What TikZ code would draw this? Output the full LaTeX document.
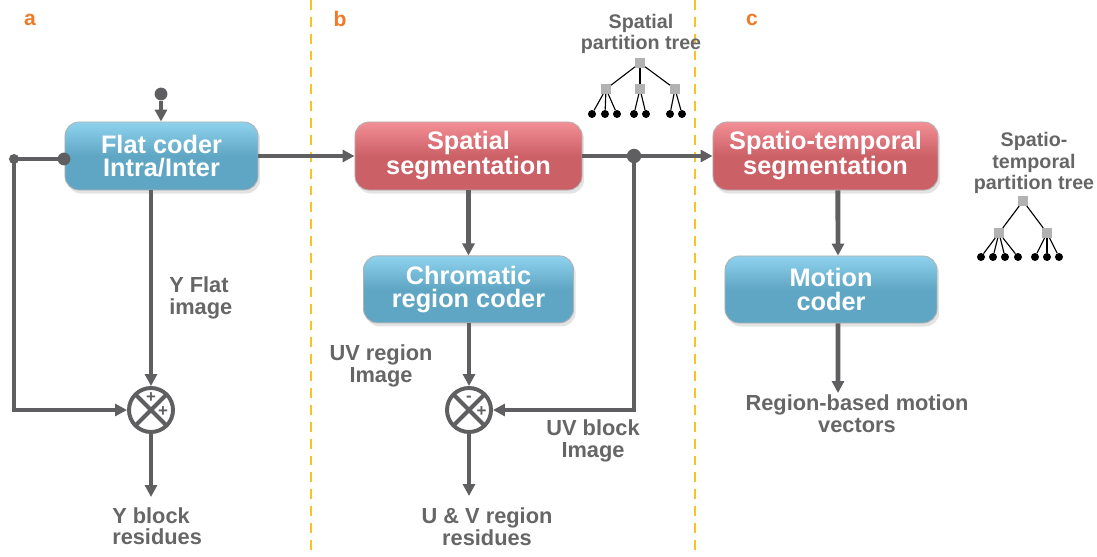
\documentclass[tikz,border=0pt]{standalone}
\usepackage{fontspec}
\setmainfont{Liberation Sans}
\usepackage{xcolor}
\usepackage{tikz}
\usetikzlibrary{positioning,arrows.meta,shadows}

\definecolor{linegray}{HTML}{5F5F61}
\definecolor{textgray}{HTML}{666666}
\definecolor{coderblue}{HTML}{5FA6C4}
\definecolor{coderbluetop}{HTML}{8ED2EE}
\definecolor{segred}{HTML}{CC6067}
\definecolor{segredtop}{HTML}{F28F95}
\definecolor{dashyellow}{HTML}{F6C324}
\definecolor{panelorange}{HTML}{F07A27}
\definecolor{treegray}{HTML}{B2B2B2}

\begin{document}
\begin{tikzpicture}[
x=0.025cm, y=-0.025cm,
box/.style={
	rectangle,
	rounded corners=0.35cm,
	draw=gray!60,
	line width=0.6pt,
	align=center,
	text=white,
	font=\bfseries\fontsize{18}{16.5}\selectfont,
	minimum height=1.7cm,
	drop shadow={opacity=0.22, shadow xshift=1.5pt, shadow yshift=-2.5pt}
},
coder/.style={box, top color=coderbluetop, bottom color=coderblue, middle color=coderblue},
seg/.style={box, top color=segredtop, bottom color=segred, middle color=segred},
lbl/.style={
	text=textgray,
	align=center,
	inner sep=0pt,
	font=\bfseries\fontsize{15.5}{15.5}\selectfont
},
treelbl/.style={lbl, font=\bfseries\fontsize{14}{15.5}\selectfont},
panel/.style={text=panelorange, font=\bfseries\fontsize{15}{15}\selectfont},
sign/.style={text=linegray, inner sep=0pt, font=\bfseries\fontsize{12}{12}\selectfont},
sum/.style={
	circle,
	draw=linegray,
	line width=2.8pt,
	minimum size=1.1cm,
	inner sep=0pt,
	path picture={
		\draw[linegray, line width=2.8pt]
			(path picture bounding box.north west) -- (path picture bounding box.south east)
			(path picture bounding box.north east) -- (path picture bounding box.south west);
	}
},
dot/.style={circle, fill=linegray, inner sep=0pt, minimum size=0.32cm},
tsq/.style={rectangle, fill=treegray, inner sep=0pt, minimum size=0.24cm},
leaf/.style={circle, fill=black, inner sep=0pt, minimum size=0.2cm},
tedge/.style={draw=black, line width=0.8pt},
wire/.style={draw=linegray, line width=3.5pt},
arrow/.style={wire, -{Triangle[length=8.5pt,width=8.5pt]}},
sep/.style={draw=dashyellow, line width=1.9pt, dash pattern=on 7pt off 5pt}
]
\useasboundingbox (0,0) rectangle (1097,557);

% panel separators and letters
\draw[sep] (311,0) -- (311,557);
\draw[sep] (695,0) -- (695,557);
\node[panel] (pa) at (30,20) {a};
\node[panel] (pb) at (340,19) {b};
\node[panel] (pc) at (752,20) {c};

% coder blocks
\node[coder, minimum width=4.825cm] (flat) at (161.5,156) {Flat coder\\Intra/Inter};
\node[seg, minimum width=5.675cm] (sseg) at (468.5,156) {Spatial\\segmentation};
\node[coder, minimum width=5.25cm, minimum height=1.675cm, below=1.625cm of sseg] (chroma) {Chromatic\\region coder};
\node[seg, minimum width=5.625cm] (stseg) at (825.5,156) {Spatio-temporal\\segmentation};
\node[coder, minimum width=5.3cm, minimum height=1.675cm] (motion) at (831,289.5) {Motion\\coder};

% adders
\node[sum] (sumY) at (151,410) {};
\node[sign] (sumYa) at ([yshift=8.5pt]sumY.center) {+};
\node[sign] (sumYb) at ([xshift=8.5pt,yshift=-1pt]sumY.center) {+};
\node[sum] (sumUV) at (469,410) {};
\node[sign] (sumUVa) at ([yshift=8pt]sumUV.center) {-};
\node[sign] (sumUVb) at ([xshift=9pt,yshift=-1pt]sumUV.center) {+};

% junctions
\node[dot] (indot) at (161,94) {};
\node[dot] (fbdot) at (64,159) {};
\node[dot, minimum size=0.25cm] (corner) at (14,159) {};
\node[dot, minimum size=0.36cm] (branch) at (634,156) {};
\coordinate (yout) at (151,497);
\coordinate (uvout) at (469,496);
\coordinate (mvout) at (838,393);

% labels
\node[lbl, align=left, anchor=west] (yflat) at (169,298) {Y Flat\\image};
\node[lbl, align=left, anchor=north west] (yres) at (112,507) {Y block\\residues};
\node[lbl] (uvimg) at (381,366) {UV region\\Image};
\node[lbl] (uvblk) at (593,441) {UV block\\Image};
\node[lbl] (uvres) at (487,527) {U \& V region\\residues};
\node[lbl] (mvec) at (857,414) {Region-based motion\\vectors};
\node[treelbl] (sptitle) at (641,34) {Spatial\\partition tree};
\node[treelbl] (sttitle) at (1034,163) {Spatio-\\temporal\\partition tree};

% spatial partition tree
\node[tsq] (sr) at (640,63) {};
\node[tsq] (s1) at (606,89) {};
\node[tsq] (s2) at (640,89) {};
\node[tsq] (s3) at (675,89) {};
\node[leaf] (s11) at (592,114) {};
\node[leaf] (s12) at (605,114) {};
\node[leaf] (s13) at (617,114) {};
\node[leaf] (s21) at (634,114) {};
\node[leaf] (s22) at (646,114) {};
\node[leaf] (s31) at (670,114) {};
\node[leaf] (s32) at (682,114) {};
\draw[tedge] (sr) -- (s1);
\draw[tedge] (sr) -- (s2);
\draw[tedge] (sr) -- (s3);
\draw[tedge] (s1) -- (s11);
\draw[tedge] (s1) -- (s12);
\draw[tedge] (s1) -- (s13);
\draw[tedge] (s2) -- (s21);
\draw[tedge] (s2) -- (s22);
\draw[tedge] (s3) -- (s31);
\draw[tedge] (s3) -- (s32);

% spatio-temporal partition tree
\node[tsq] (tr) at (1023,201) {};
\node[tsq] (t1) at (999,233) {};
\node[tsq] (t2) at (1047,233) {};
\node[leaf] (t11) at (981,257) {};
\node[leaf] (t12) at (993,257) {};
\node[leaf] (t13) at (1005,257) {};
\node[leaf] (t14) at (1018,257) {};
\node[leaf] (t21) at (1035,257) {};
\node[leaf] (t22) at (1047,257) {};
\node[leaf] (t23) at (1059,257) {};
\draw[tedge] (tr) -- (t1);
\draw[tedge] (tr) -- (t2);
\draw[tedge] (t1) -- (t11);
\draw[tedge] (t1) -- (t12);
\draw[tedge] (t1) -- (t13);
\draw[tedge] (t1) -- (t14);
\draw[tedge] (t2) -- (t21);
\draw[tedge] (t2) -- (t22);
\draw[tedge] (t2) -- (t23);

% connectors, panel a
\draw[arrow] (indot) -- (indot |- flat.north);
\draw[wire] (fbdot.center) -- (corner.center);
\draw[arrow] (corner.center) |- (sumY.west);
\draw[arrow] (sumY.north |- flat.south) -- (sumY.north);
\draw[arrow] (sumY.south) -- (yout);
\draw[arrow] (flat.east) -- (sseg.west);

% connectors, panel b
\draw[arrow] (sseg) -- (chroma);
\draw[arrow] (sumUV.north |- chroma.south) -- (sumUV.north);
\draw[arrow] (sumUV.south) -- (uvout);
\draw[wire] (sseg.east) -- (branch.center);
\draw[arrow] (branch.center) -- (stseg.west);
\draw[arrow] (branch.center) |- (sumUV.east);

% connectors, panel c
\draw[arrow] ([xshift=0.31cm]stseg.south) -- ([xshift=0.175cm]motion.north);
\draw[arrow] ([xshift=0.175cm]motion.south) -- (mvout);

\end{tikzpicture}
\end{document}
